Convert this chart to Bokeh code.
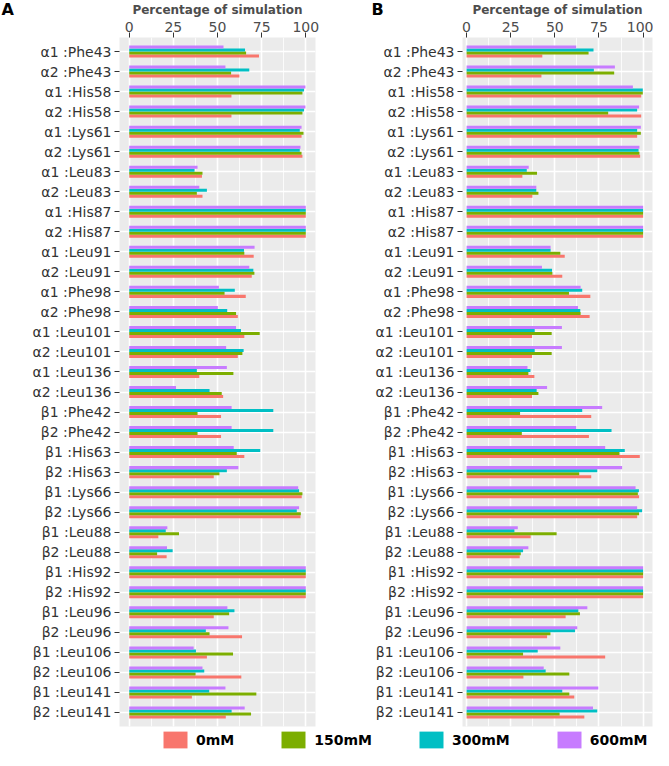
from bokeh.plotting import figure
from bokeh.models import (ColumnDataSource, FactorRange, Range1d, SingleIntervalTicker,
                          Label, Legend, LegendItem)
from bokeh.transform import dodge
from bokeh.layouts import column, row
from bokeh.embed import file_html
from bokeh.resources import INLINE

categories = [
    "α1 :Phe43", "α2 :Phe43", "α1 :His58", "α2 :His58", "α1 :Lys61", "α2 :Lys61",
    "α1 :Leu83", "α2 :Leu83", "α1 :His87", "α2 :His87", "α1 :Leu91", "α2 :Leu91",
    "α1 :Phe98", "α2 :Phe98", "α1 :Leu101", "α2 :Leu101", "α1 :Leu136", "α2 :Leu136",
    "β1 :Phe42", "β2 :Phe42", "β1 :His63", "β2 :His63", "β1 :Lys66", "β2 :Lys66",
    "β1 :Leu88", "β2 :Leu88", "β1 :His92", "β2 :His92", "β1 :Leu96", "β2 :Leu96",
    "β1 :Leu106", "β2 :Leu106", "β1 :Leu141", "β2 :Leu141",
]
series_names = ["0mM", "150mM", "300mM", "600mM"]
series_colors = ["#F8766D", "#7CAE00", "#00BFC4", "#C77CFF"]
panel_letters = ["A", "B"]
axis_title = "Percentage of simulation"

# Panel A
A_0mM = [73.5, 62.4, 57.9, 57.9, 97.6, 98.1, 41.2, 41.5, 100, 100, 70.5, 69.4,
         66.0, 61.5, 65.2, 61.5, 39.7, 53.2, 52.0, 52.0, 65.2, 47.9, 97.7, 97.0,
         16.5, 21.2, 100, 100, 47.9, 63.9, 44.0, 63.5, 35.5, 54.7]
A_150mM = [66.2, 57.7, 98.1, 98.1, 98.7, 97.6, 41.5, 38.3, 100, 100, 65.2, 70.9,
           54.0, 60.5, 73.9, 64.1, 59.0, 52.4, 38.7, 38.7, 60.9, 51.1, 98.1, 97.2,
           28.2, 15.8, 100, 100, 56.6, 45.5, 58.8, 37.6, 72.0, 69.0]
A_300mM = [65.6, 68.0, 99.0, 99.0, 96.6, 96.6, 37.0, 44.0, 100, 100, 65.0, 70.3,
           59.8, 55.5, 63.3, 64.8, 38.3, 45.5, 81.6, 81.6, 74.2, 55.3, 96.2, 94.9,
           20.7, 24.6, 100, 100, 59.6, 43.4, 37.8, 42.5, 45.3, 58.0]
A_600mM = [53.4, 54.5, 99.8, 99.8, 97.6, 97.0, 38.7, 39.7, 100, 100, 71.0, 68.0,
           50.8, 50.2, 60.5, 54.9, 55.3, 26.5, 58.0, 58.0, 59.2, 61.8, 95.7, 96.2,
           21.6, 21.4, 100, 100, 55.6, 56.2, 36.5, 41.5, 54.5, 65.4]

# Panel B
B_0mM = [42.9, 42.4, 98.9, 98.9, 96.6, 98.3, 31.6, 37.3, 100, 100, 55.6, 54.2,
         70.1, 69.7, 37.1, 37.1, 38.4, 37.1, 70.6, 69.3, 98.1, 70.6, 97.7, 96.6,
         36.3, 30.1, 100, 100, 56.1, 45.6, 78.5, 32.2, 61.0, 66.7]
B_150mM = [69.1, 83.6, 99.8, 80.2, 98.7, 97.9, 39.9, 40.7, 100, 100, 53.1, 48.6,
           58.0, 64.6, 48.2, 48.2, 35.0, 40.7, 30.3, 31.3, 86.6, 63.8, 97.0, 97.7,
           51.0, 30.7, 100, 100, 64.2, 47.5, 32.0, 58.2, 58.2, 52.7]
B_300mM = [71.9, 72.1, 99.8, 96.6, 96.6, 97.4, 34.1, 39.5, 100, 100, 47.6, 48.4,
           65.5, 64.4, 38.6, 38.6, 36.2, 39.7, 65.5, 82.1, 89.6, 74.0, 97.6, 99.4,
           27.1, 32.0, 100, 100, 63.3, 61.4, 40.3, 44.8, 54.2, 74.0]
B_600mM = [62.1, 84.0, 94.2, 97.7, 98.7, 97.9, 35.2, 39.5, 100, 100, 47.6, 42.7,
           64.6, 63.1, 54.0, 54.0, 34.5, 45.6, 76.8, 62.1, 78.5, 88.1, 95.7, 96.6,
           29.0, 35.0, 100, 100, 68.4, 62.7, 53.1, 43.7, 74.6, 71.6]

FONT = "DejaVu Sans"
TXT = "#4D4D4D"


def make_panel(vals, width, border_left, border_right, xr):
    src = ColumnDataSource(dict(cat=categories, s0=vals[0], s1=vals[1], s2=vals[2], s3=vals[3]))
    p = figure(width=width, height=710,
               y_range=FactorRange(factors=categories[::-1], range_padding=0.2,
                                   range_padding_units="absolute"),
               x_range=Range1d(*xr), x_axis_location="above",
               output_backend="svg", toolbar_location=None,
               min_border_left=border_left, min_border_right=border_right,
               min_border_top=10, min_border_bottom=2)
    offsets = [-0.225, -0.075, 0.075, 0.225]
    for i, col in enumerate(["s0", "s1", "s2", "s3"]):
        p.hbar(y=dodge("cat", offsets[i], range=p.y_range), left=0, right=col, height=0.15,
               source=src, fill_color=series_colors[i], line_color=None)
    p.background_fill_color = "#EBEBEB"
    p.border_fill_color = "white"
    p.outline_line_color = None
    p.xaxis.ticker = SingleIntervalTicker(interval=25, num_minor_ticks=2)
    p.xaxis.major_label_text_font = FONT
    p.xaxis.major_label_text_font_size = "14px"
    p.xaxis.major_label_text_color = TXT
    p.xaxis.major_label_standoff = 1
    p.axis.axis_line_color = None
    p.axis.major_tick_in = 0
    p.axis.major_tick_out = 5
    p.axis.major_tick_line_color = "#333333"
    p.axis.minor_tick_line_color = None
    p.yaxis.major_label_text_font = FONT
    p.yaxis.major_label_text_font_size = "14px"
    p.yaxis.major_label_text_color = "#333333"
    p.yaxis.major_label_standoff = 3
    p.xgrid.grid_line_color = "white"
    p.xgrid.grid_line_width = 1.6
    p.xgrid.minor_grid_line_color = "white"
    p.xgrid.minor_grid_line_width = 0.8
    p.ygrid.grid_line_color = "white"
    p.ygrid.grid_line_width = 1.6
    return p


pA = make_panel([A_0mM, A_150mM, A_300mM, A_600mM], 322, 119, 7, (-5.5, 105.5))
pB = make_panel([B_0mM, B_150mM, B_300mM, B_600mM], 331, 140, 1, (-2.3, 105.3))

# top strip with panel letters and axis titles (pixel coordinates)
top = figure(width=653, height=18, x_range=Range1d(0, 653), y_range=Range1d(0, 18),
             output_backend="svg", toolbar_location=None, min_border=0)
top.axis.visible = False
top.grid.visible = False
top.outline_line_color = None
for lx, letter in zip([1, 371], panel_letters):
    top.add_layout(Label(x=lx, y=9, text=letter, text_font=FONT, text_font_style="bold",
                         text_font_size="16px", text_color="black",
                         text_baseline="middle", text_align="left"))
for cx in [217, 557]:
    top.add_layout(Label(x=cx, y=9, text=axis_title, text_font=FONT, text_font_style="bold",
                         text_font_size="12px", text_color=TXT,
                         text_baseline="middle", text_align="center"))

lg = figure(width=653, height=22, x_range=Range1d(0, 1), y_range=Range1d(0, 1),
            output_backend="svg", toolbar_location=None, min_border=0)
lg.axis.visible = False
lg.grid.visible = False
lg.outline_line_color = None
items = []
for name, c in zip(series_names, series_colors):
    r = lg.rect(x=[-10], y=[-10], width=1, height=1, fill_color=c, line_color=None)
    items.append(LegendItem(label=name, renderers=[r]))
legend = Legend(items=items, orientation="horizontal", location=(160, 0),
                glyph_width=30, glyph_height=21, label_height=21,
                label_text_font=FONT, label_text_font_style="bold",
                label_text_font_size="14px", label_text_color="black",
                spacing=44, padding=0, margin=0, label_standoff=6,
                border_line_color=None, background_fill_alpha=0)
lg.add_layout(legend)

layout = column(top, row(pA, pB), lg)
open("out.html", "w").write(file_html(layout, INLINE))
